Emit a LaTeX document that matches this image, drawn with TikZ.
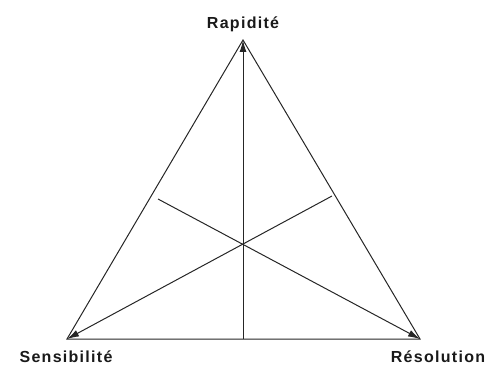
\documentclass[tikz,border=0pt]{standalone}
\usepackage{fontspec}
\setmainfont{Liberation Sans}
\newfontfamily\lblfont[LetterSpace=8]{Liberation Sans}
\usetikzlibrary{arrows.meta}
\tikzset{
  edge/.style={draw=black!85, line width=1pt},
  arr/.style={edge, -{Latex[length=12pt,width=7pt]}},
  lbl/.style={font=\lblfont\bfseries\fontsize{16}{18}\selectfont, anchor=base, inner sep=0pt, text=black!90}
}
\begin{document}
\begin{tikzpicture}[x=1pt,y=1pt]
\useasboundingbox (0,0) rectangle (492,365);
\coordinate (T) at (243,325);
\coordinate (L) at (67,26);
\coordinate (R) at (420,26);
\coordinate (B) at (243,26);
\coordinate (P1) at (158,166);
\coordinate (P2) at (332,169);
\draw[edge] (T) -- (L) -- (R) -- cycle;
\draw[arr] (B) -- (T);
\draw[arr] (P2) -- (L);
\draw[arr] (P1) -- (R);
\node[lbl] (rap) at (243,336) {Rapidité};
\node[lbl] (sen) at (66,3) {Sensibilité};
\node[lbl] (res) at (438,3) {Résolution};
\end{tikzpicture}
\end{document}
